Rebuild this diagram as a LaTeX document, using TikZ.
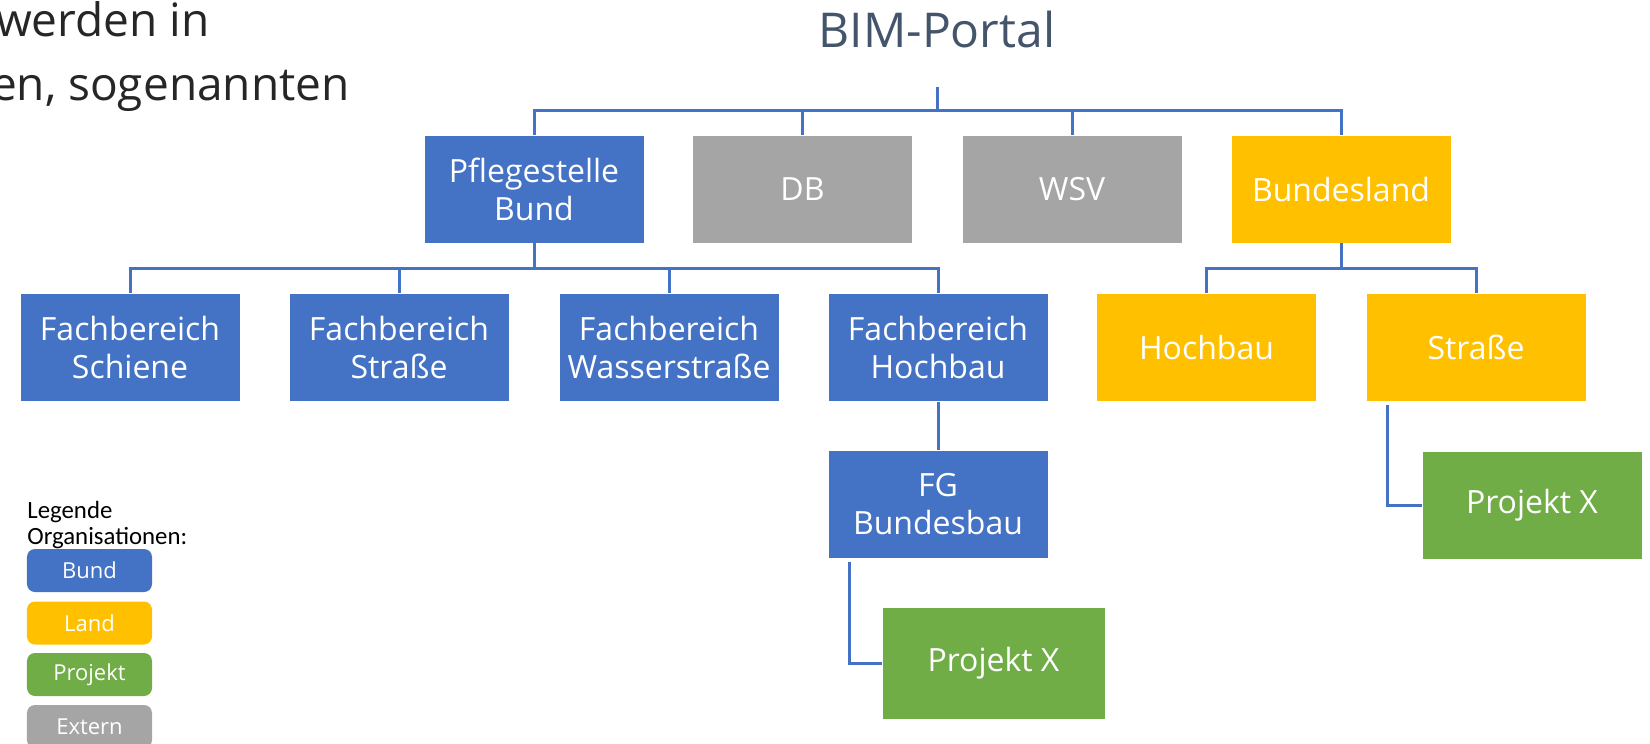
\documentclass[tikz,border=0pt]{standalone}
\usepackage{fontspec}
\setmainfont{Open Sans}
\newfontfamily\legfont{Carlito}

\definecolor{bund}{HTML}{4472C4}
\definecolor{land}{HTML}{FFC000}
\definecolor{projekt}{HTML}{70AD47}
\definecolor{extern}{HTML}{A5A5A5}
\definecolor{linie}{HTML}{4472C4}
\definecolor{titel}{HTML}{44546A}

\tikzset{
  orgbox/.style={draw=white, line width=0.4bp, text=white, align=center,
    minimum width=110bp, minimum height=54bp, inner sep=1bp,
    font=\fontsize{16bp}{19bp}\selectfont},
  bundbox/.style={orgbox, fill=bund},
  landbox/.style={orgbox, fill=land},
  projbox/.style={orgbox, fill=projekt},
  extbox/.style={orgbox, fill=extern},
  legbox/.style={rounded corners=4bp, text=white, inner sep=0pt,
    minimum width=62.5bp, minimum height=21.5bp,
    font=\fontsize{11bp}{13bp}\selectfont},
  conn/.style={draw=linie, line width=1.5bp},
}

\begin{document}
\begin{tikzpicture}[x=0.5bp, y=-0.5bp]
    \useasboundingbox (0,0) rectangle (1650,744);
    % Text fragment from the slide
    \node [anchor=base east, inner sep=0pt, text=black!85, font=\fontsize{23bp}{32bp}\selectfont] (txta) at (210,36) {werden in};
    \node [anchor=base east, inner sep=0pt, text=black!85, font=\fontsize{23bp}{32bp}\selectfont] (txtb) at (350,100) {en, sogenannten};
    % Title
    \node [anchor=base, inner sep=0pt, text=titel, font=\fontsize{24bp}{28bp}\selectfont] (portal) at (937,47) {BIM-Portal};
    \coordinate (stub) at (937,87);
    \coordinate (bus) at (937,110);
    % Top level
    \node [bundbox] (psb) at (534,189) {Pflegestelle\\Bund};
    \node [extbox] (db) at (802.5,189) {DB};
    \node [extbox] (wsv) at (1072,189) {WSV};
    \node [landbox] (bl) at (1341,189) {Bundesland};
    % Fachbereiche
    \node [bundbox] (fbs) at (130,347.5) {Fachbereich\\Schiene};
    \node [bundbox] (fbstr) at (399,347.5) {Fachbereich\\Straße};
    \node [bundbox] (fbw) at (669,347.5) {Fachbereich\\Wasserstraße};
    \node [bundbox] (fbh) at (938,347.5) {Fachbereich\\Hochbau};
    \node [landbox] (lhb) at (1206.5,347.5) {Hochbau};
    \node [landbox] (lstr) at (1476,347.5) {Straße};
    % Below
    \node [bundbox] (fgb) at (938,504.5) {FG\\Bundesbau};
    \node [projbox, minimum width=111.5bp, minimum height=56bp] (pxa) at (993.5,663) {Projekt X};
    \node [projbox] (pxb) at (1532,505) {Projekt X};
    % Connectors
    \draw [conn] (stub) -- (bus);
    \draw [conn] (psb.north) |- (bus) -| (bl.north);
    \draw [conn] (db.north) -- (db.north |- bus);
    \draw [conn] (wsv.north) -- (wsv.north |- bus);
    \coordinate (fbus) at (534,268);
    \draw [conn] (psb.south) -- (fbus);
    \draw [conn] (fbs.north) |- (fbus) -| (fbh.north);
    \draw [conn] (fbstr.north) -- (fbstr.north |- fbus);
    \draw [conn] (fbw.north) -- (fbw.north |- fbus);
    \coordinate (lbus) at (1341,268);
    \draw [conn] (bl.south) -- (lbus);
    \draw [conn] (lhb.north) |- (lbus) -| (lstr.north);
    \draw [conn] (fbh.south) -- (fgb.north);
    \draw [conn] ([xshift=-44.5bp, yshift=-1.5bp]fgb.south) |- (pxa.west);
    \draw [conn] ([xshift=-44.5bp, yshift=-1.5bp]lstr.south) |- (pxb.west);
    % Legend
    \node [anchor=north west, inner sep=0pt, align=left, font=\legfont\fontsize{12.4bp}{12.8bp}\selectfont] (leg) at (27,501) {Legende\\Organisationen:};
    \node [legbox, fill=bund] (legb) at (89.5,570.5) {Bund};
    \node [legbox, fill=land] (legl) at (89.5,623) {Land};
    \node [legbox, fill=projekt] (legp) at (89.5,674.5) {Projekt};
    \node [legbox, fill=extern] (lege) at (89.5,726.5) {Extern};
\end{tikzpicture}
\end{document}
